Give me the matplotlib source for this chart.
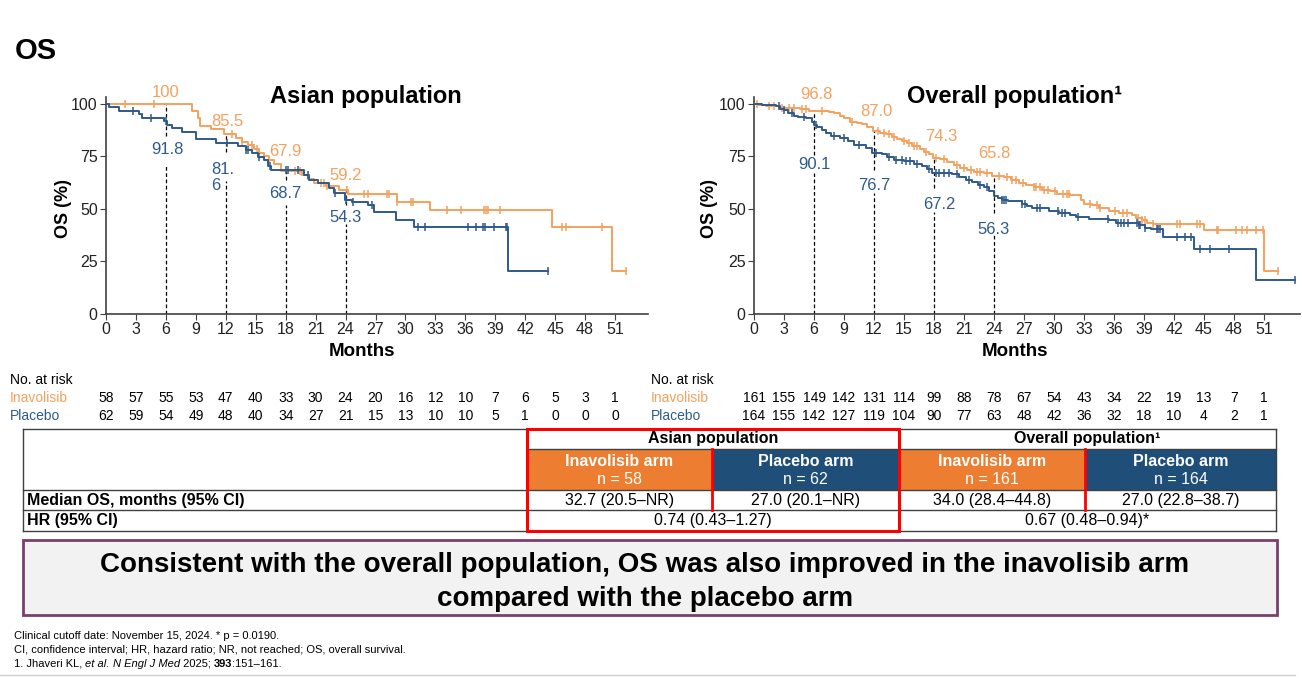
import matplotlib
matplotlib.use('Agg')
import matplotlib.pyplot as plt
import numpy as np
from matplotlib import transforms
from matplotlib.patches import Rectangle

plt.rcParams['font.family'] = ['Liberation Sans', 'DejaVu Sans']

ORANGE = '#F4A15D'
BLUE = '#2F5A8C'
HEAD_OR = '#ED7D31'
HEAD_BL = '#1F4E79'
RED = '#FF0000'

# ---- data: Asian population ----
asia_inv_t = [0, 8.6, 9.2, 9.4, 10.5, 11.8, 13.0, 13.6, 14.2, 14.8, 15.3, 15.8, 16.3,
              16.8, 17.5, 19.6, 20.2, 20.8, 22.0, 23.3, 24.2, 29.2, 32.5, 44.7, 50.7]
asia_inv_s = [100, 96.6, 93.1, 89.7, 87.9, 85.5, 83.7, 82.0, 80.3, 78.6, 76.8, 75.0, 73.2,
              71.4, 67.9, 66.0, 64.1, 62.2, 61.0, 59.2, 57.0, 53.5, 49.5, 41.3, 20.6]
asia_inv_end = 52.1
asia_inv_cens = [1.9, 4.8, 12.6, 13.6, 14.6, 15.1, 16.3, 18.9, 19.4, 21.5, 21.8, 22.1, 24.1,
                 25.8, 26.2, 28.2, 28.4, 29.2, 30.6, 30.8, 34.2, 35.6, 37.9, 38.1, 38.3,
                 39.5, 45.7, 46.1, 49.7, 52.1]

asia_pla_t = [0, 0.3, 1.3, 3.3, 3.6, 5.8, 6.1, 6.6, 7.6, 9.0, 11.0, 13.2, 14.0, 14.6, 15.2,
              15.8, 16.2, 16.5, 19.8, 20.3, 21.2, 22.3, 22.8, 23.9, 24.6, 26.2, 26.8, 29.1,
              30.9, 40.3]
asia_pla_s = [100, 98.4, 96.8, 95.1, 93.5, 91.8, 90.1, 88.5, 86.8, 83.5, 81.6, 79.9, 78.2,
              76.5, 74.8, 73.1, 70.6, 68.7, 66.2, 63.8, 62.2, 59.8, 57.4, 54.3, 53.4, 51.9,
              48.4, 44.8, 41.6, 20.5]
asia_pla_end = 44.3
asia_pla_cens = [2.7, 4.5, 6.0, 12.1, 14.0, 14.2, 15.3, 16.4, 18.0, 18.2, 19.2, 20.2, 22.9,
                 24.0, 24.7, 26.6, 31.3, 32.0, 36.3, 37.1, 37.8, 38.0, 38.9, 40.1, 40.2, 44.3]

# ---- data: overall population ----
all_inv_t = [0, 0.4, 1.2, 2.5, 4.6, 5.5, 7.5, 8.0, 8.6, 9.0, 9.6, 10.3, 10.8, 11.3, 11.9,
             12.6, 13.2, 13.8, 14.3, 14.8, 15.3, 15.8, 16.6, 17.0, 17.5, 17.9, 18.6, 19.3,
             20.0, 20.6, 21.3, 22.0, 23.0, 23.8, 25.0, 25.7, 26.5, 27.2, 28.0, 28.8, 29.6,
             30.3, 31.6, 32.7, 33.0, 33.8, 34.5, 35.5, 36.5, 37.8, 38.2, 38.8, 39.3, 39.9,
             45.0, 51.0]
all_inv_s = [100, 99.4, 98.8, 98.1, 97.5, 96.8, 96.2, 95.5, 94.2, 93.5, 91.6, 90.9, 90.3,
             89.0, 87.0, 86.4, 85.7, 84.4, 83.1, 82.5, 81.2, 79.9, 78.6, 77.3, 76.0, 74.3,
             73.6, 72.3, 71.0, 69.7, 68.4, 67.7, 67.0, 65.8, 65.1, 63.8, 62.5, 61.2, 60.5,
             59.2, 58.5, 57.2, 56.5, 54.5, 52.5, 51.8, 50.5, 49.2, 47.9, 47.2, 45.9, 44.6,
             43.3, 42.7, 40.0, 20.5]
all_inv_end = 52.4
all_inv_cens = [0.3, 1.5, 2.0, 2.8, 3.5, 4.0, 4.8, 5.2, 6.8, 9.8, 12.4, 13.0, 13.5, 14.0,
                15.0, 15.5, 16.0, 16.3, 17.2, 18.2, 19.0, 20.3, 21.0, 21.7, 22.3, 22.6,
                23.3, 24.5, 25.3, 25.8, 26.2, 26.9, 28.0, 28.2, 28.6, 29.0, 29.4, 30.1,
                30.9, 31.3, 31.5, 33.6, 34.3, 34.6, 36.1, 36.9, 37.3, 38.4, 38.8, 39.1,
                39.9, 42.3, 42.6, 44.3, 44.6, 46.3, 46.4, 48.2, 48.8, 49.3, 50.2, 50.9, 52.4]

all_pla_t = [0, 0.8, 2.2, 2.6, 3.0, 3.4, 4.0, 4.4, 5.2, 5.8, 6.0, 6.3, 6.8, 7.2, 7.7, 8.6,
             9.4, 10.0, 11.2, 11.8, 12.8, 13.3, 14.0, 15.0, 16.0, 16.8, 17.3, 17.8, 19.8,
             20.5, 21.2, 21.8, 22.4, 23.0, 23.5, 24.0, 24.4, 24.8, 25.4, 26.8, 27.3, 27.8,
             29.5, 30.5, 31.6, 32.2, 33.5, 35.5, 36.2, 38.5, 39.1, 39.7, 40.9, 44.0, 50.2]
all_pla_s = [100, 99.4, 98.8, 97.5, 96.9, 95.6, 94.4, 93.7, 93.1, 91.2, 90.1, 88.8, 87.5,
             86.2, 84.9, 83.6, 82.3, 80.4, 79.1, 76.7, 76.1, 74.8, 73.5, 72.9, 71.6, 70.3,
             69.0, 67.2, 66.5, 65.2, 63.9, 62.6, 61.3, 60.6, 58.7, 56.3, 55.0, 54.4, 53.8,
             52.5, 51.2, 50.5, 49.2, 48.0, 47.3, 46.0, 45.3, 44.6, 43.2, 42.5, 41.0, 40.3,
             36.8, 30.8, 16.2]
all_pla_end = 54.1
all_pla_cens = [2.5, 3.0, 3.8, 5.0, 6.2, 8.0, 9.0, 10.5, 12.2, 13.5, 14.2, 14.8, 15.2, 15.6,
                16.3, 17.5, 18.2, 18.5, 19.0, 19.5, 20.3, 21.5, 22.6, 23.3, 24.8, 25.0,
                25.2, 26.8, 27.1, 28.3, 28.6, 30.4, 30.8, 31.1, 32.4, 35.4, 36.4, 36.7,
                37.0, 37.4, 38.3, 38.5, 38.6, 39.1, 40.3, 40.4, 40.6, 42.3, 43.1, 43.7,
                44.6, 45.6, 47.5, 54.1]

land_t = [6, 12, 18, 24]
asia_inv_land = ['100', '85.5', '67.9', '59.2']
asia_pla_land = ['91.8', '81.\n6', '68.7', '54.3']
all_inv_land = ['96.8', '87.0', '74.3', '65.8']
all_pla_land = ['90.1', '76.7', '67.2', '56.3']

risk_t = list(range(0, 52, 3))
asia_inv_risk = [58, 57, 55, 53, 47, 40, 33, 30, 24, 20, 16, 12, 10, 7, 6, 5, 3, 1]
asia_pla_risk = [62, 59, 54, 49, 48, 40, 34, 27, 21, 15, 13, 10, 10, 5, 1, 0, 0, 0]
all_inv_risk = [161, 155, 149, 142, 131, 114, 99, 88, 78, 67, 54, 43, 34, 22, 19, 13, 7, 1]
all_pla_risk = [164, 155, 142, 127, 119, 104, 90, 77, 63, 48, 42, 36, 32, 18, 10, 4, 2, 1]

n_arm = ['n = 58', 'n = 62', 'n = 161', 'n = 164']
median_os = ['32.7 (20.5–NR)', '27.0 (20.1–NR)', '34.0 (28.4–44.8)', '27.0 (22.8–38.7)']
hr_vals = ['0.74 (0.43–1.27)', '0.67 (0.48–0.94)*']

W, H = 1302, 678
fig = plt.figure(figsize=(W / 100, H / 100), dpi=100)
fig.patch.set_facecolor('white')

# pixel-space overlay for the slide parts
bg = fig.add_axes([0, 0, 1, 1])
bg.set_xlim(0, W)
bg.set_ylim(H, 0)
bg.axis('off')


def px_axes(l, t, r, b):
    return fig.add_axes([l / W, 1 - b / H, (r - l) / W, (b - t) / H])


def km(ax, t, s, t_end, cens, color):
    tt = np.append(t, t_end)
    ss = np.append(s, s[-1])
    ax.step(tt, ss, where='post', color=color, lw=1.4, zorder=3)
    idx = np.searchsorted(t, cens, side='right') - 1
    ax.plot(cens, np.asarray(s)[idx], ls='none', marker='|', ms=6, mew=1.1,
            color=color, zorder=3)


def style(ax, xmax):
    ax.set_xlim(0, xmax)
    ax.set_ylim(0, 103.3)
    ax.set_xticks(range(0, 52, 3))
    ax.set_yticks([0, 25, 50, 75, 100])
    for sp in ['top', 'right']:
        ax.spines[sp].set_visible(False)
    for sp in ['left', 'bottom']:
        ax.spines[sp].set_color('#404040')
        ax.spines[sp].set_linewidth(1.2)
    ax.tick_params(labelsize=11.5, length=4, color='#404040', labelcolor='#222222', pad=2)
    ax.patch.set_alpha(0)


def guides(ax, inv_lab, pla_lab, inv_pos, pla_pos, gaps, tops):
    for i, t in enumerate(land_t):
        g0, g1 = gaps[i]
        ax.plot([t, t], [0, g0], ls=(0, (3, 2)), color='black', lw=0.9, zorder=2)
        ax.plot([t, t], [g1, tops[i]], ls=(0, (3, 2)), color='black', lw=0.9, zorder=2)
        ax.text(inv_pos[i][0], inv_pos[i][1], inv_lab[i], color=ORANGE, fontsize=12,
                ha='center', va='center')
        ax.text(pla_pos[i][0], pla_pos[i][1], pla_lab[i], color=BLUE, fontsize=12,
                ha=pla_pos[i][2], va='center', linespacing=1.1)


# ---- left KM plot ----
axL = px_axes(106, 97, 648, 314)
km(axL, asia_inv_t, asia_inv_s, asia_inv_end, asia_inv_cens, ORANGE)
km(axL, asia_pla_t, asia_pla_s, asia_pla_end, asia_pla_cens, BLUE)
style(axL, 54.3)
guides(axL, asia_inv_land, asia_pla_land,
       [(6, 105.5), (12.2, 91.6), (18, 77.3), (24, 65.7)],
       [(6.2, 78.4, 'center'), (10.5, 65, 'left'), (18, 57.5, 'center'), (24, 46, 'center')],
       [(71.5, 84.5), (63.5, 77), (52, 64), (43, 52)],
       [100, 85.5, 68.7, 59.2])

# ---- right KM plot ----
axR = px_axes(754, 97, 1300, 314)
km(axR, all_inv_t, all_inv_s, all_inv_end, all_inv_cens, ORANGE)
km(axR, all_pla_t, all_pla_s, all_pla_end, all_pla_cens, BLUE)
style(axR, 54.6)
guides(axR, all_inv_land, all_pla_land,
       [(6.2, 104.3), (12.2, 96.3), (18.7, 84.4), (24, 76.5)],
       [(6.0, 71.4, 'center'), (12.0, 61.4, 'center'), (18.5, 52.2, 'center'),
        (24, 40.3, 'center')],
       [(67, 75.7), (57.4, 68.6), (48.7, 59.8), (38.4, 47.9)],
       [96.8, 87.0, 74.3, 65.8])

# titles and axis labels
bg.text(15, 51, 'OS', fontsize=21, fontweight='bold', va='center', ha='left')
bg.text(366, 97, 'Asian population', fontsize=17, fontweight='bold', ha='center', va='center')
bg.text(1015, 97, 'Overall population¹', fontsize=17, fontweight='bold', ha='center', va='center')
for x in (64, 709):
    bg.text(x, 209, 'OS (%)', fontsize=13, fontweight='bold', rotation=90,
            ha='center', va='center')
for x in (362, 1015):
    bg.text(x, 352, 'Months', fontsize=13.5, fontweight='bold', ha='center', va='center')

# ---- number at risk ----
for ax, x0, inv, pla in [(axL, 10, asia_inv_risk, asia_pla_risk),
                         (axR, 651, all_inv_risk, all_pla_risk)]:
    bg.text(x0, 380, 'No. at risk', fontsize=10, va='center', ha='left')
    bg.text(x0, 398, 'Inavolisib', fontsize=10, va='center', ha='left', color=ORANGE)
    bg.text(x0, 416, 'Placebo', fontsize=10, va='center', ha='left', color=BLUE)
    tr = transforms.blended_transform_factory(ax.transData, bg.transData)
    for t, a, b in zip(risk_t, inv, pla):
        bg.text(t, 398, str(a), transform=tr, fontsize=10, ha='center', va='center')
        bg.text(t, 416, str(b), transform=tr, fontsize=10, ha='center', va='center')

# ---- summary table ----
FS = 11.5
cols = [23, 527, 712, 899, 1085, 1276]
rows = [429, 449, 490, 510, 531]
arm_fill = [HEAD_OR, HEAD_BL, HEAD_OR, HEAD_BL]
for i in range(4):
    bg.add_patch(Rectangle((cols[i + 1], rows[1]), cols[i + 2] - cols[i + 1],
                           rows[2] - rows[1], facecolor=arm_fill[i], edgecolor='none'))
    cx = (cols[i + 1] + cols[i + 2]) / 2
    bg.text(cx, 461, ['Inavolisib arm', 'Placebo arm'][i % 2], color='white',
            fontsize=FS, fontweight='bold', ha='center', va='center')
    bg.text(cx, 480, n_arm[i], color='white', fontsize=FS, ha='center', va='center')
    bg.text(cx, 500, median_os[i], fontsize=FS, ha='center', va='center')
gc = '#404040'
bg.plot([cols[0], cols[-1]], [rows[0], rows[0]], color=gc, lw=1)
bg.plot([cols[1], cols[-1]], [rows[1], rows[1]], color=gc, lw=1)
for y in rows[2:]:
    bg.plot([cols[0], cols[-1]], [y, y], color=gc, lw=1)
for x in (cols[0], cols[1], cols[3], cols[5]):
    bg.plot([x, x], [rows[0], rows[-1]], color=gc, lw=1)
for x in (cols[2], cols[4]):
    bg.plot([x, x], [rows[1], rows[3]], color=RED, lw=2)
bg.add_patch(Rectangle((cols[1], rows[0]), cols[3] - cols[1], rows[-1] - rows[0],
                       facecolor='none', edgecolor=RED, lw=2.2, zorder=5))
bg.text((cols[1] + cols[3]) / 2, 439, 'Asian population', fontsize=FS,
        fontweight='bold', ha='center', va='center')
bg.text((cols[3] + cols[5]) / 2, 439, 'Overall population¹', fontsize=FS,
        fontweight='bold', ha='center', va='center')
bg.text(27, 500, 'Median OS, months (95% CI)', fontsize=FS, fontweight='bold', va='center')
bg.text(27, 520, 'HR (95% CI)', fontsize=FS, fontweight='bold', va='center')
bg.text((cols[1] + cols[3]) / 2, 520, hr_vals[0], fontsize=FS, ha='center', va='center')
bg.text((cols[3] + cols[5]) / 2, 520, hr_vals[1], fontsize=FS, ha='center', va='center')

# ---- key message box ----
bg.add_patch(Rectangle((23, 540), 1254, 75, facecolor='#F2F2F2', edgecolor='#7B3F6E', lw=2))
bg.text(645, 565, 'Consistent with the overall population, OS was also improved in the inavolisib arm',
        fontsize=20, fontweight='bold', ha='center', va='center')
bg.text(645, 599, 'compared with the placebo arm', fontsize=20, fontweight='bold',
        ha='center', va='center')

# ---- footnotes ----
bg.text(14, 636, 'Clinical cutoff date: November 15, 2024. * p = 0.0190.', fontsize=8, va='center')
bg.text(14, 650, 'CI, confidence interval; HR, hazard ratio; NR, not reached; OS, overall survival.',
        fontsize=8, va='center')
fig.canvas.draw()
rend = fig.canvas.get_renderer()
x = 14
for piece, kw in [('1. Jhaveri KL, ', {}), ('et al.', {'style': 'italic'}),
                  (' ', {}), ('N Engl J Med', {'style': 'italic'}), (' 2025; ', {}),
                  ('393', {'fontweight': 'bold'}), (':151–161.', {})]:
    t = bg.text(x, 664, piece, fontsize=8, va='center', ha='left', **kw)
    bb = t.get_window_extent(rend)
    x += bb.width
bg.plot([0, 1295], [675, 675], color='#D0D0D0', lw=1)

fig.savefig('out.png', dpi=100)
